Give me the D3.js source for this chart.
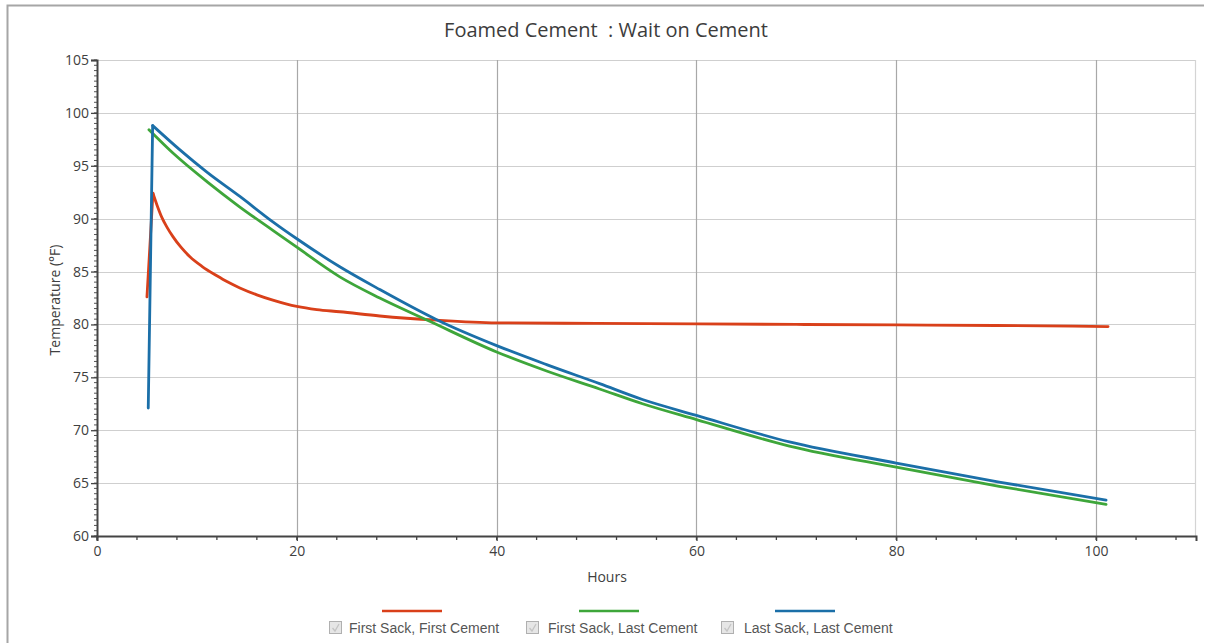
<!DOCTYPE html>
<html>
<head>
<meta charset="utf-8">
<script src="https://cdn.jsdelivr.net/npm/d3@7"></script>
<style>
  html, body { margin: 0; padding: 0; background: #fff; }
  svg { display: block; }
</style>
</head>
<body>
<svg id="chart" width="1205" height="643"></svg>
<script>
// ---- data ----
const seriesNames = ["First Sack, First Cement", "First Sack, Last Cement", "Last Sack, Last Cement"];
const seriesColors = ["#d9401a", "#3ea63a", "#1b6fa8"];

const hoursFF = [5.0, 5.6, 6.0, 6.5, 7.0, 7.6, 8.4, 9.3, 10.5, 12.0, 13.0, 14.3, 16.0, 17.6, 20.0, 22.0, 24.3, 28.3, 34.0, 40.0, 50.0, 60.0, 70.0, 80.0, 90.0, 101.2];
const tempFF  = [82.6, 92.4, 91.3, 90.1, 89.2, 88.3, 87.3, 86.4, 85.5, 84.6, 84.05, 83.45, 82.8, 82.3, 81.7, 81.4, 81.2, 80.8, 80.4, 80.15, 80.1, 80.05, 80.0, 79.95, 79.9, 79.8];

const hoursFL = [5.2, 7.6, 11.0, 14.3, 17.6, 20.0, 24.3, 28.3, 33.3, 40.0, 45.0, 50.3, 54.6, 60.0, 69.3, 80.0, 90.3, 101.0];
const tempFL  = [98.4, 96.2, 93.5, 91.1, 88.9, 87.3, 84.5, 82.5, 80.3, 77.4, 75.6, 73.9, 72.5, 71.0, 68.5, 66.5, 64.7, 63.0];

const hoursLL = [5.13, 5.57, 8.3, 11.0, 14.3, 17.6, 20.0, 24.3, 28.3, 34.1, 40.0, 45.0, 50.3, 54.6, 60.0, 69.3, 80.0, 90.3, 101.0];
const tempLL  = [72.1, 98.8, 96.5, 94.4, 92.1, 89.7, 88.1, 85.45, 83.3, 80.4, 78.0, 76.2, 74.4, 72.9, 71.4, 68.9, 66.9, 65.1, 63.4];

const xTicks = [0, 20, 40, 60, 80, 100];
const yTicks = [60, 65, 70, 75, 80, 85, 90, 95, 100, 105];

const titleText = "Foamed Cement  : Wait on Cement";
const xLabel = "Hours";
const yLabel = "Temperature (\u00B0F)";

// ---- layout ----
const svg = d3.select("#chart");
const plotLeft = 97, plotRight = 1196, plotTop = 60, plotBottom = 536;

const x = d3.scaleLinear().domain([0, 110]).range([plotLeft, plotRight]);
const y = d3.scaleLinear().domain([60, 105]).range([plotBottom, plotTop]);

// frame
svg.append("path")
  .attr("d", `M7.5,643 L7.5,5.5 L1204,5.5`)
  .attr("fill", "none").attr("stroke", "#a6a6a6").attr("stroke-width", 2);

// title
svg.append("text").attr("x", 606).attr("y", 37).attr("text-anchor", "middle")
  .style("white-space", "pre")
  .attr("font-family", "'Open Sans', sans-serif").attr("font-size", 20).attr("fill", "#3c3c3c")
  .text(titleText);

// horizontal gridlines
svg.append("g").selectAll("line").data(yTicks).join("line")
  .attr("x1", plotLeft).attr("x2", plotRight)
  .attr("y1", d => Math.round(y(d)) + 0.5).attr("y2", d => Math.round(y(d)) + 0.5)
  .attr("stroke", "#cfcfcf").attr("stroke-width", 1.2);

// vertical gridlines
svg.append("g").selectAll("line").data(xTicks.filter(d => d > 0)).join("line")
  .attr("x1", d => Math.round(x(d)) + 0.5).attr("x2", d => Math.round(x(d)) + 0.5)
  .attr("y1", plotTop).attr("y2", plotBottom)
  .attr("stroke", "#a8a8a8").attr("stroke-width", 1.2);

// right plot border
svg.append("line").attr("x1", plotRight - 0.5).attr("x2", plotRight - 0.5).attr("y1", plotTop).attr("y2", plotBottom)
  .attr("stroke", "#d4d4d4").attr("stroke-width", 1.2);

// x axis minor ticks
const xMinor = d3.range(0, 110.001, 4);
svg.append("g").selectAll("line").data(xMinor).join("line")
  .attr("x1", d => x(d)).attr("x2", d => x(d))
  .attr("y1", plotBottom).attr("y2", plotBottom + 4)
  .attr("stroke", "#444").attr("stroke-width", 1.3);

// y axis minor ticks
const yMinor = d3.range(60, 105.001, 0.5);
svg.append("g").selectAll("line").data(yMinor).join("line")
  .attr("x1", plotLeft - 3).attr("x2", plotLeft)
  .attr("y1", d => y(d)).attr("y2", d => y(d))
  .attr("stroke", "#555").attr("stroke-width", 1);

// axes via d3
const xAxis = d3.axisBottom(x).tickValues(xTicks).tickSize(5).tickPadding(5).tickFormat(d3.format("d"));
const gx = svg.append("g").attr("transform", `translate(0,${plotBottom})`).call(xAxis);
gx.select(".domain").attr("stroke", "#444").attr("stroke-width", 2);
gx.selectAll(".tick line").attr("stroke", "#444").attr("stroke-width", 1.3);
gx.selectAll(".tick text").attr("font-family", "'Open Sans', sans-serif").attr("font-size", 14).attr("fill", "#404040");

const yAxis = d3.axisLeft(y).tickValues(yTicks).tickSize(6).tickPadding(2).tickFormat(d3.format("d"));
const gy = svg.append("g").attr("transform", `translate(${plotLeft},0)`).call(yAxis);
gy.select(".domain").attr("stroke", "#444").attr("stroke-width", 2);
gy.selectAll(".tick line").attr("stroke", "#444").attr("stroke-width", 1.3);
gy.selectAll(".tick text").attr("font-family", "'Open Sans', sans-serif").attr("font-size", 14).attr("fill", "#404040");

// axis labels
svg.append("text").attr("x", 607).attr("y", 582).attr("text-anchor", "middle")
  .attr("font-family", "'Open Sans', sans-serif").attr("font-size", 14).attr("fill", "#404040")
  .text(xLabel);
svg.append("text").attr("transform", `translate(60,300) rotate(-90)`).attr("text-anchor", "middle")
  .attr("font-family", "'Open Sans', sans-serif").attr("font-size", 14).attr("fill", "#404040")
  .text(yLabel);

// series lines: linear rise to the peak, smooth decay afterwards
const allSeries = [
  {h: hoursFF, t: tempFF},
  {h: hoursFL, t: tempFL},
  {h: hoursLL, t: tempLL}
];
const riseLine = d3.line().x(d => x(d[0])).y(d => y(d[1])).curve(d3.curveLinear);
const decayLine = d3.line().x(d => x(d[0])).y(d => y(d[1])).curve(d3.curveMonotoneX);
allSeries.forEach((s, i) => {
  const pts = s.h.map((h, j) => [h, s.t[j]]);
  const peak = d3.maxIndex(s.t);
  const g = svg.append("g").attr("fill", "none").attr("stroke", seriesColors[i])
    .attr("stroke-width", 2.8).attr("stroke-linejoin", "round").attr("stroke-linecap", "round");
  if (peak > 0) g.append("path").datum(pts.slice(0, peak + 1)).attr("d", riseLine);
  g.append("path").datum(pts.slice(peak)).attr("d", decayLine);
});

// legend
const legendBoxX = [329, 526, 721];
const legendTextX = [349, 548, 744];
const legendLine = [[382, 442], [579, 639], [775, 835]];
seriesNames.forEach((name, i) => {
  const g = svg.append("g");
  g.append("line").attr("x1", legendLine[i][0]).attr("x2", legendLine[i][1])
    .attr("y1", 611).attr("y2", 611).attr("stroke", seriesColors[i]).attr("stroke-width", 2.5);
  g.append("rect").attr("x", legendBoxX[i] + 0.5).attr("y", 621.5).attr("width", 12).attr("height", 12)
    .attr("fill", "#e6e6e6").attr("stroke", "#b0b0b0");
  g.append("path").attr("d", `M${legendBoxX[i] + 3.5},${628} L${legendBoxX[i] + 6},${631} L${legendBoxX[i] + 10},${624}`)
    .attr("fill", "none").attr("stroke", "#c4c4c4").attr("stroke-width", 1.3);
  g.append("text").attr("x", legendTextX[i]).attr("y", 633)
    .attr("font-family", "'Liberation Sans', Arial, sans-serif").attr("font-size", 14).attr("fill", "#555")
    .text(name);
});
</script>
</body>
</html>
